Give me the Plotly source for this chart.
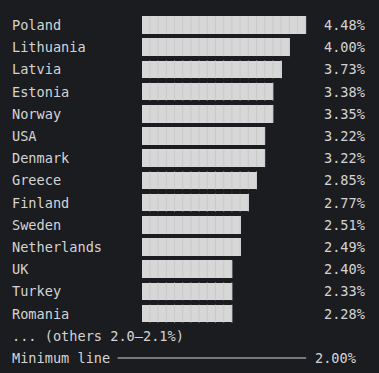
import plotly.graph_objects as go

countries = ["Poland", "Lithuania", "Latvia", "Estonia", "Norway", "USA", "Denmark",
             "Greece", "Finland", "Sweden", "Netherlands", "UK", "Turkey", "Romania"]
values = [4.48, 4.00, 3.73, 3.38, 3.35, 3.22, 3.22, 2.85, 2.77, 2.51, 2.49, 2.40, 2.33, 2.28]
# bar lengths as drawn, in block characters
bar_blocks = [20, 18, 17, 16, 16, 15, 15, 14, 13, 12, 12, 11, 11, 11]
others_label = "... (others 2.0–2.1%)"
minimum_label = "Minimum line"
minimum_value = 2.00

BG = "#1b1c20"
FG = "#d4d4d4"
BAR = "#d7d7d7"
STRIPE = "#c9c9c9"
FONT = "DejaVu Sans Mono, monospace"
FS = 13.6

CW = 8.2      # character width in px
X0 = 11       # left of column 0 in px
W, H = 379, 373
PITCH = 22.2
Y0 = 25
BW = 0.8

NAME_COL = 0
BAR_COL = 16
VAL_COL = 38

rows = list(range(len(countries)))
others_row = len(countries)
min_row = len(countries) + 1

fig = go.Figure()
fig.add_trace(go.Bar(
    y=rows, x=bar_blocks, base=BAR_COL, orientation="h", width=BW,
    marker=dict(color=BAR, line=dict(width=0)),
    hoverinfo="skip", showlegend=False,
))

# block separators (right edge of each block glyph)
sx, sy = [], []
edge = 0.5 / CW
for i, n in enumerate(bar_blocks):
    for k in range(1, n + 1):
        sx += [BAR_COL + k - edge, BAR_COL + k - edge, None]
        sy += [i - BW / 2, i + BW / 2, None]
fig.add_trace(go.Scatter(
    x=sx, y=sy, mode="lines", line=dict(color=STRIPE, width=1),
    hoverinfo="skip", showlegend=False,
))

# minimum line
fig.add_trace(go.Scatter(
    x=[len(minimum_label) + 1, VAL_COL - 2], y=[min_row, min_row],
    mode="lines", line=dict(color=FG, width=1), hoverinfo="skip", showlegend=False,
))

ann = []
for i, (c, v) in enumerate(zip(countries, values)):
    ann.append(dict(x=NAME_COL, y=i, text=c, xanchor="left"))
    ann.append(dict(x=VAL_COL, y=i, text=f"{v:.2f}%", xanchor="left"))
ann.append(dict(x=NAME_COL, y=others_row, text=others_label, xanchor="left"))
ann.append(dict(x=NAME_COL, y=min_row, text=minimum_label, xanchor="left"))
ann.append(dict(x=VAL_COL - 1, y=min_row, text=f"{minimum_value:.2f}%", xanchor="left"))
for a in ann:
    a.update(xref="x", yref="y", showarrow=False, yanchor="middle", borderpad=0,
             font=dict(family=FONT, size=FS, color=FG))

fig.update_layout(
    width=W, height=H, margin=dict(l=0, r=0, t=0, b=0),
    paper_bgcolor=BG, plot_bgcolor=BG,
    xaxis=dict(range=[-X0 / CW, (W - X0) / CW], visible=False, fixedrange=True),
    yaxis=dict(range=[(H - Y0) / PITCH, -Y0 / PITCH], visible=False, fixedrange=True),
    annotations=ann, bargap=0,
)

fig.write_html("out.html", config={"displayModeBar": False},
               post_script="document.body.style.margin='0';document.body.style.background='%s';" % BG)
